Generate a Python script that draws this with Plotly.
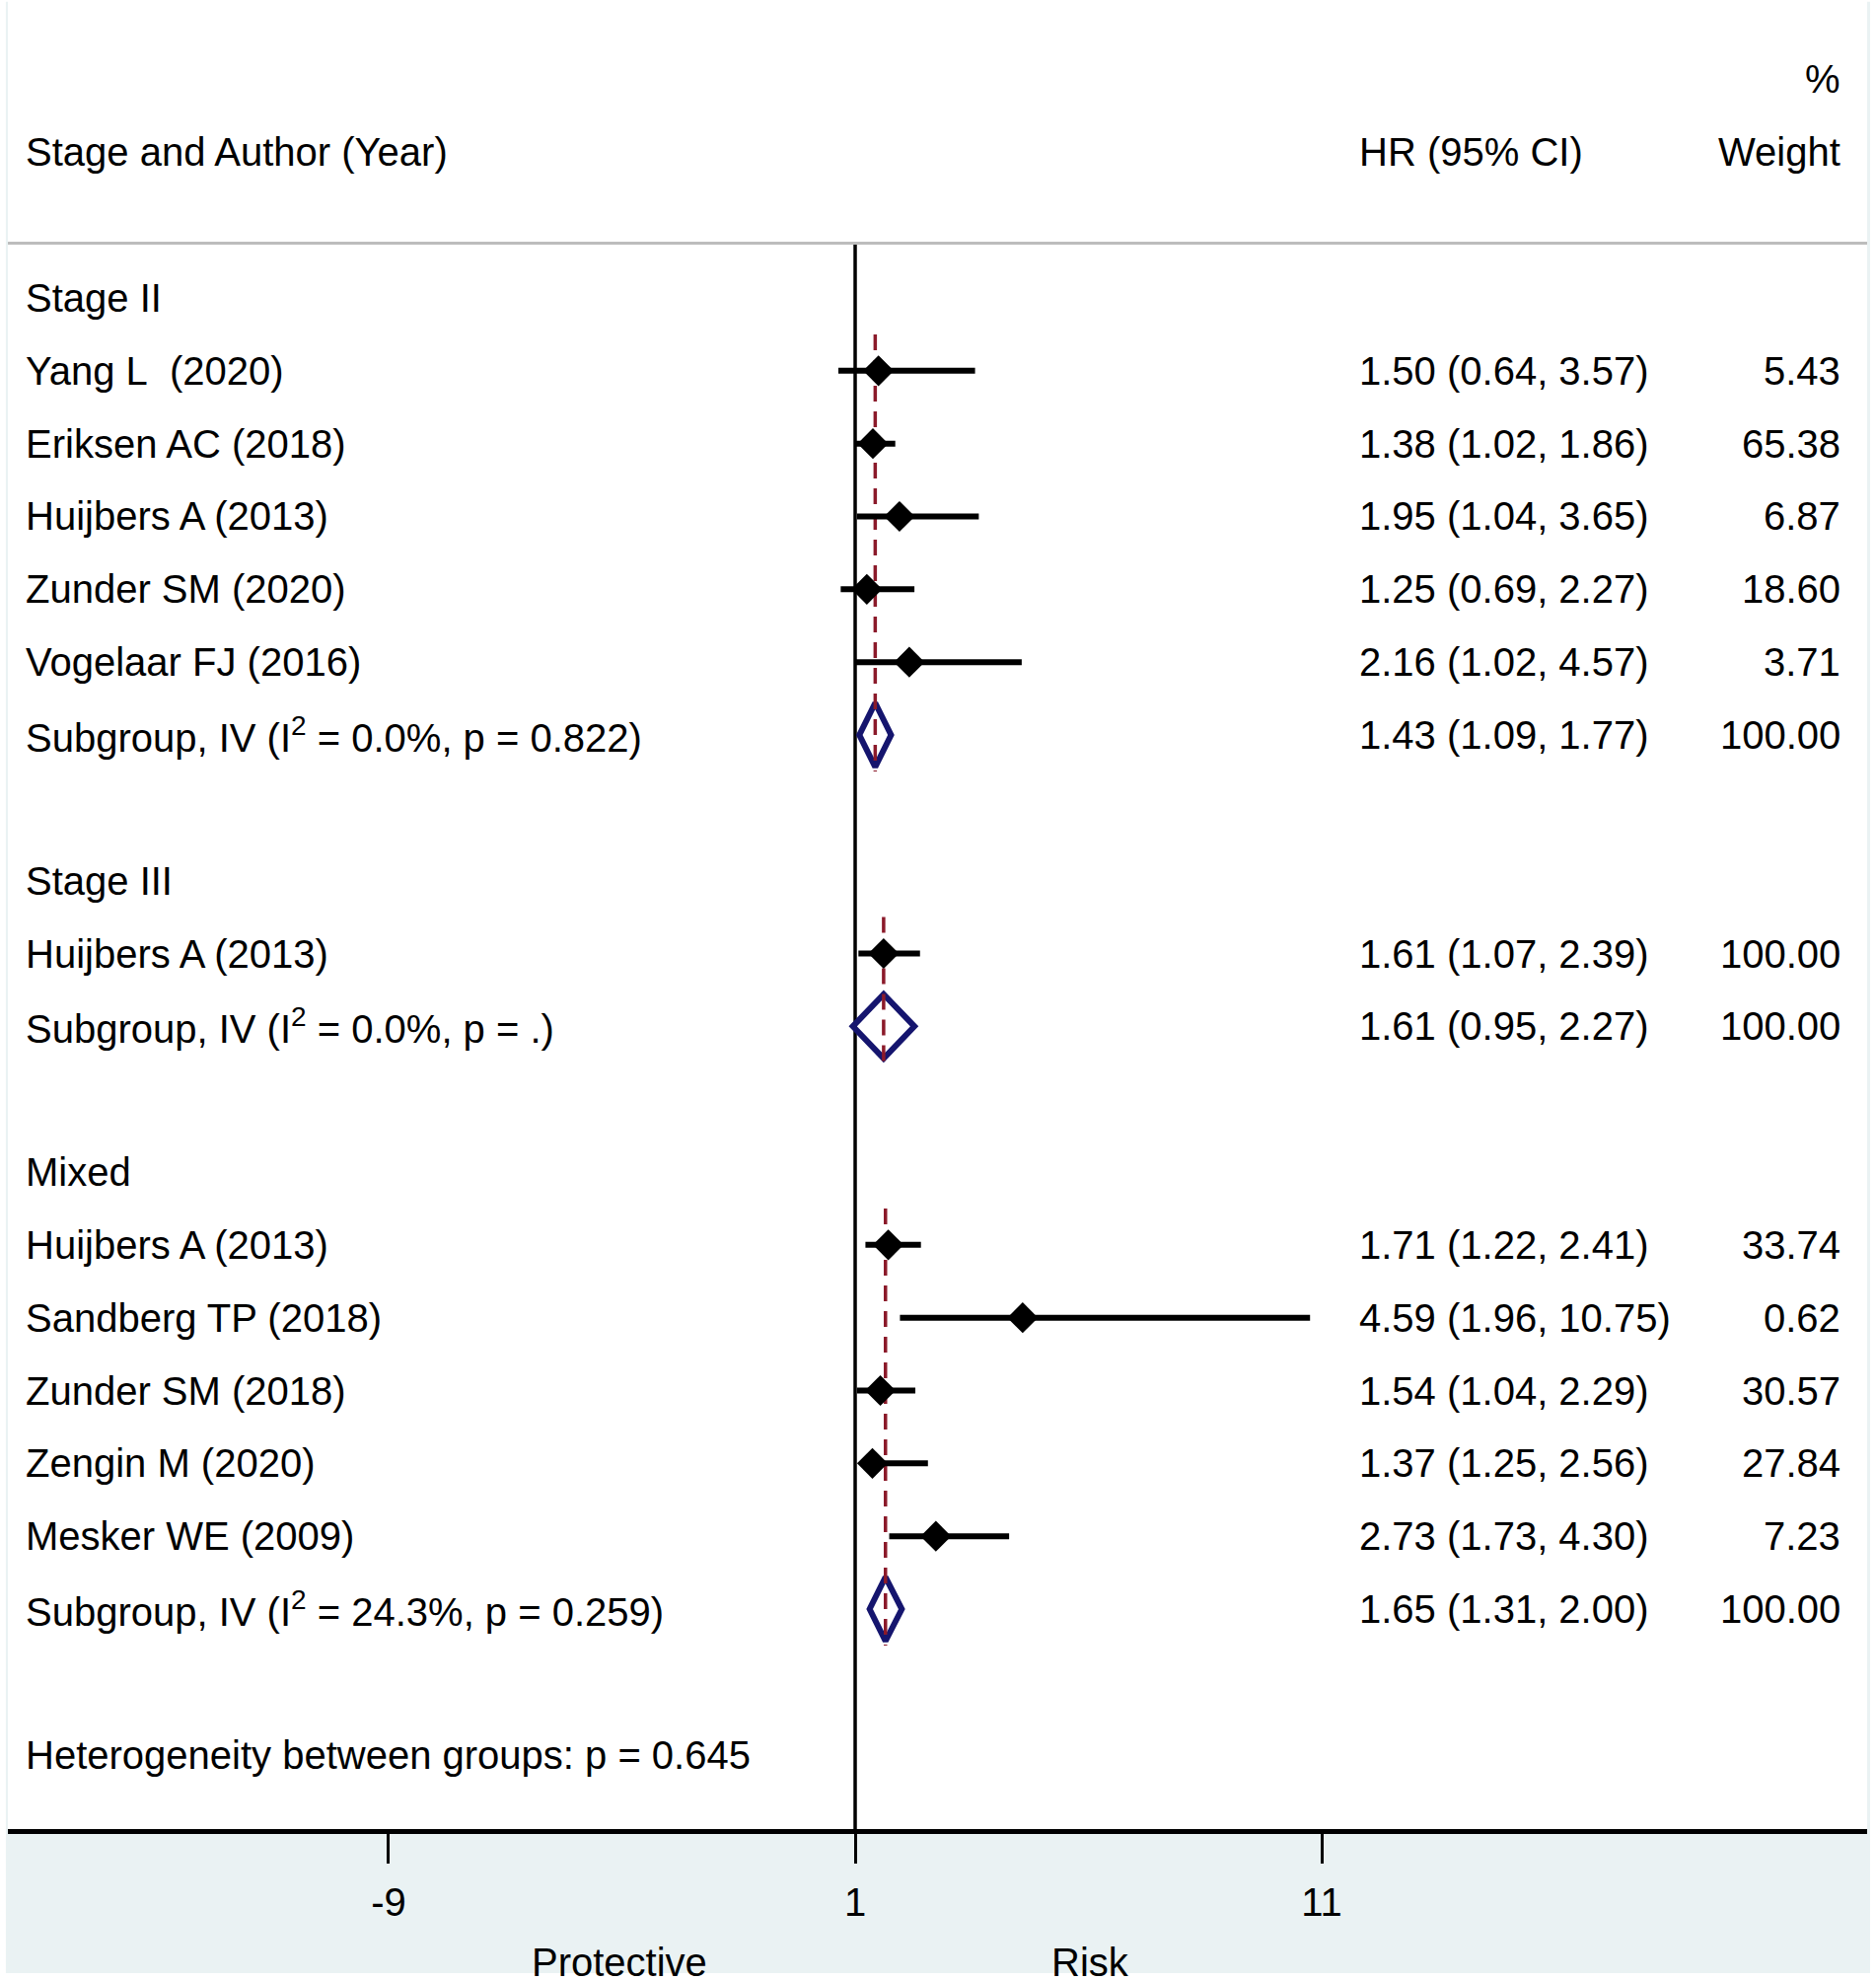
import plotly.graph_objects as go

# left-hand column: text and row position (0 = "Stage II", one unit per row)
row_labels = ["Stage II", "Yang L\u00a0 (2020)", "Eriksen AC (2018)", "Huijbers A (2013)",
              "Zunder SM (2020)", "Vogelaar FJ (2016)",
              "Subgroup, IV (I<sup>2</sup> = 0.0%, p = 0.822)",
              "Stage III", "Huijbers A (2013)",
              "Subgroup, IV (I<sup>2</sup> = 0.0%, p = .)",
              "Mixed", "Huijbers A (2013)", "Sandberg TP (2018)", "Zunder SM (2018)",
              "Zengin M (2020)", "Mesker WE (2009)",
              "Subgroup, IV (I<sup>2</sup> = 24.3%, p = 0.259)",
              "Heterogeneity between groups: p = 0.645"]
label_rows = [0, 1, 2, 3, 4, 5, 6, 8, 9, 10, 12, 13, 14, 15, 16, 17, 18, 20]

# individual studies
study_rows = [1, 2, 3, 4, 5, 9, 13, 14, 15, 16, 17]
study_hr = [1.50, 1.38, 1.95, 1.25, 2.16, 1.61, 1.71, 4.59, 1.54, 1.37, 2.73]
study_lo = [0.64, 1.02, 1.04, 0.69, 1.02, 1.07, 1.22, 1.96, 1.04, 1.25, 1.73]
study_hi = [3.57, 1.86, 3.65, 2.27, 4.57, 2.39, 2.41, 10.75, 2.29, 2.56, 4.30]
study_wt = [5.43, 65.38, 6.87, 18.60, 3.71, 100.00, 33.74, 0.62, 30.57, 27.84, 7.23]

# pooled subgroup estimates
sub_rows = [6, 10, 18]
sub_first = [1, 9, 13]
sub_hr = [1.43, 1.61, 1.65]
sub_lo = [1.09, 0.95, 1.31]
sub_hi = [1.77, 2.27, 2.00]
sub_wt = [100.00, 100.00, 100.00]

tick_vals = [-9, 1, 11]
favours = ["Protective", "Risk"]
favours_x = [-4.05, 6.05]

FONT = "Liberation Sans, Arial, sans-serif"
FS = 40
NAVY = "#15156e"
DRED = "#8b1a2a"
X_LEFT, X_HR, X_WT = 0.0085, 0.7255, 0.9867

fig = go.Figure()

# null line at HR = 1
fig.add_trace(go.Scatter(x=[1, 1], y=[-0.75, 21.1], mode="lines",
                         line=dict(color="black", width=3.5), hoverinfo="skip"))

# subgroup diamonds
for r, h, lo, hi in zip(sub_rows, sub_hr, sub_lo, sub_hi):
    fig.add_trace(go.Scatter(x=[lo, h, hi, h, lo, h], y=[r, r - 0.44, r, r + 0.44, r, r - 0.44],
                             mode="lines", line=dict(color=NAVY, width=6)))

# dashed pooled-estimate lines
for r0, r1, h in zip(sub_first, sub_rows, sub_hr):
    fig.add_trace(go.Scatter(x=[h, h], y=[r0 - 0.5, r1 + 0.5], mode="lines",
                             line=dict(color=DRED, width=3.5, dash="16px,10px")))

# confidence intervals
ci_x, ci_y = [], []
for r, lo, hi in zip(study_rows, study_lo, study_hi):
    ci_x += [lo, hi, None]
    ci_y += [r, r, None]
fig.add_trace(go.Scatter(x=ci_x, y=ci_y, mode="lines", line=dict(color="black", width=6)))

# point estimates
fig.add_trace(go.Scatter(x=study_hr, y=study_rows, mode="markers",
                         marker=dict(symbol="diamond", size=24, color="black")))

ann = []
# left column
for lab, r in zip(row_labels, label_rows):
    ann.append(dict(text=lab, x=X_LEFT, y=r, xref="paper", yref="y",
                    xanchor="left", yanchor="middle", showarrow=False))
# HR and weight columns
for r, h, lo, hi, w in list(zip(study_rows, study_hr, study_lo, study_hi, study_wt)) + \
        list(zip(sub_rows, sub_hr, sub_lo, sub_hi, sub_wt)):
    ann.append(dict(text=f"{h:.2f} ({lo:.2f}, {hi:.2f})", x=X_HR, y=r, xref="paper", yref="y",
                    xanchor="left", yanchor="middle", showarrow=False))
    ann.append(dict(text=f"{w:.2f}", x=X_WT, y=r, xref="paper", yref="y",
                    xanchor="right", yanchor="middle", showarrow=False))
# header
ann.append(dict(text="Stage and Author (Year)", x=X_LEFT, y=-2, xref="paper", yref="y",
                xanchor="left", yanchor="middle", showarrow=False))
ann.append(dict(text="HR (95% CI)", x=X_HR, y=-2, xref="paper", yref="y",
                xanchor="left", yanchor="middle", showarrow=False))
ann.append(dict(text="Weight", x=X_WT, y=-2, xref="paper", yref="y",
                xanchor="right", yanchor="middle", showarrow=False))
ann.append(dict(text="%", x=X_WT, y=-3, xref="paper", yref="y",
                xanchor="right", yanchor="middle", showarrow=False))
# favours labels
for t, xv in zip(favours, favours_x):
    ann.append(dict(text=t, x=xv, y=-0.0728, xref="x", yref="paper",
                    xanchor="center", yanchor="middle", showarrow=False))

shapes = [
    # outer graph region (light blue-grey frame / bottom band)
    dict(type="rect", xref="paper", yref="paper", x0=-0.0011, x1=1.0016, y0=-0.0787, y1=0.999,
         fillcolor="#eaf2f3", line=dict(width=0), layer="below"),
    # white inner plot region
    dict(type="rect", xref="paper", yref="paper", x0=0, x1=1, y0=0, y1=1,
         fillcolor="white", line=dict(width=0), layer="below"),
    # header rule
    dict(type="line", xref="paper", yref="y", x0=0, x1=1, y0=-0.75, y1=-0.75,
         line=dict(color="#bdbdbd", width=3)),
]

fig.update_layout(
    width=1902, height=2007,
    margin=dict(l=8, r=9, t=0, b=153),
    paper_bgcolor="white", plot_bgcolor="white",
    showlegend=False,
    font=dict(family=FONT, size=FS, color="black"),
    annotations=ann, shapes=shapes,
    xaxis=dict(range=[-17.16, 22.69], tickvals=tick_vals, ticktext=[str(v) for v in tick_vals],
               showgrid=False, zeroline=False, showline=True, linecolor="black", linewidth=5,
               ticks="outside", ticklen=30, tickwidth=3, tickcolor="black",
               tickfont=dict(family=FONT, size=FS, color="black"), ticklabelstandoff=5),
    yaxis=dict(range=[21.02, -4.09], visible=False, showgrid=False, zeroline=False),
)

fig.write_html("out.html", config={"displayModeBar": False},
               post_script="document.body.style.margin='0px';")
